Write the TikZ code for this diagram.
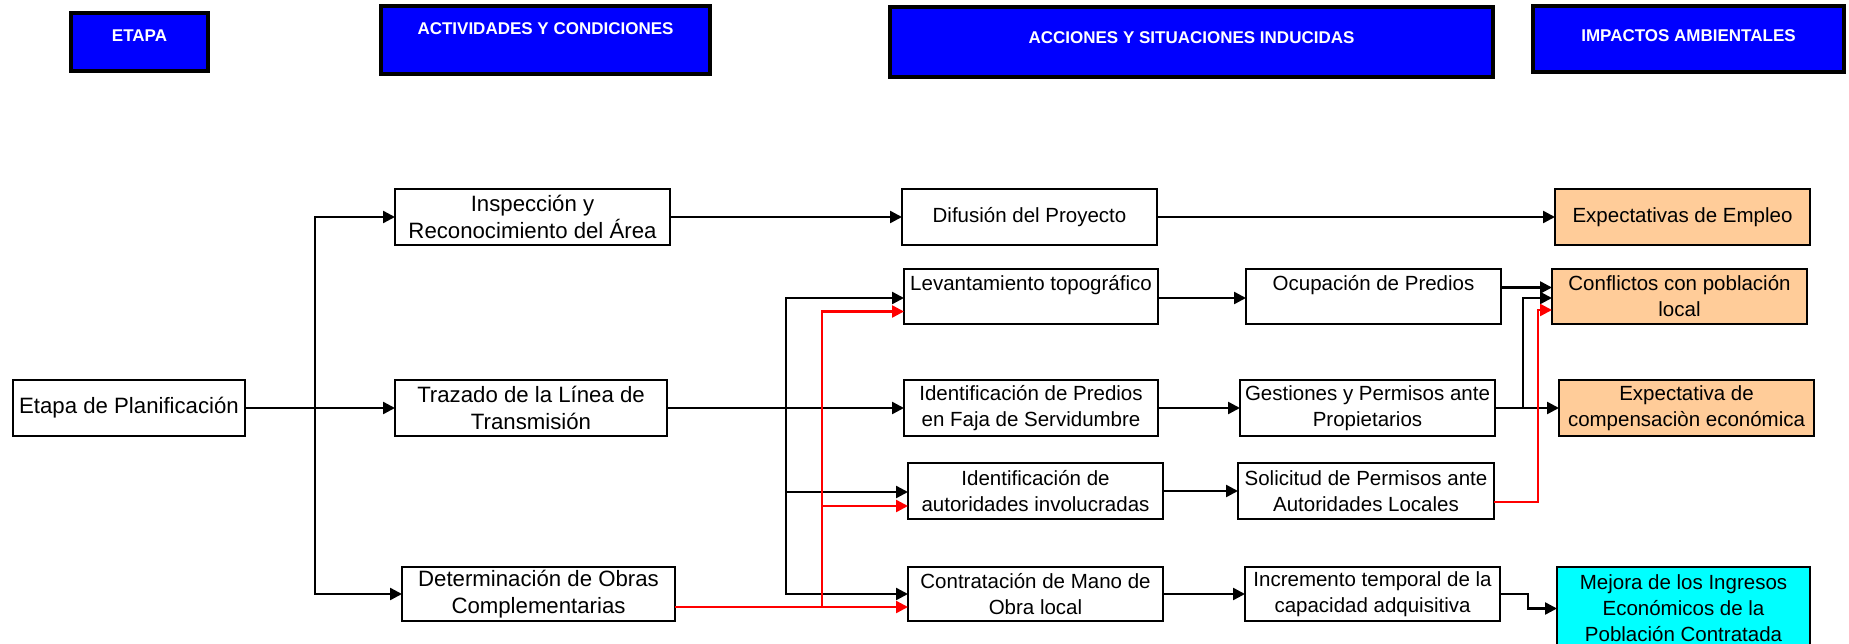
\documentclass[tikz,border=0pt]{standalone}
\usepackage{fontspec}
\setmainfont{Liberation Sans}
\usetikzlibrary{arrows.meta}
\definecolor{peach}{RGB}{255,204,153}
\definecolor{hblue}{RGB}{0,0,255}
\definecolor{aqua}{RGB}{0,255,255}
\begin{document}
\begin{tikzpicture}[x=1pt,y=-1pt,
  box/.style={draw=black, line width=1.8pt, fill=white, align=center, inner sep=2pt, outer sep=0pt,
    font=\fontsize{20.5}{26}\selectfont},
  bigbox/.style={box, font=\fontsize{22.2}{27.5}\selectfont},
  impbox/.style={box, fill=peach},
  topbox/.style={box, text height=15pt, text depth=27pt},
  hdr/.style={draw=black, line width=3.5pt, fill=hblue, text=white, outer sep=0pt,
    font=\bfseries\fontsize{17}{20}\selectfont, text height=12.3pt},
  arr/.style={draw=black, line width=2.4pt, -{Triangle[length=12pt,width=12pt]}},
  redarr/.style={arr, draw=red},
  conn/.style={draw=black, line width=2.4pt}]
\useasboundingbox (0,0) rectangle (1849,644);

% headers
\node[hdr, minimum width=137pt, minimum height=58pt, text depth=14pt] (h1) at (139.5,42) {ETAPA};
\node[hdr, minimum width=329pt, minimum height=68pt, text depth=24pt] (h2) at (545.5,40) {ACTIVIDADES Y CONDICIONES};
\node[hdr, minimum width=603pt, minimum height=70pt, text depth=10pt] (h3) at (1191.5,42) {ACCIONES Y SITUACIONES INDUCIDAS};
\node[hdr, minimum width=311pt, minimum height=66pt, text depth=8pt] (h4) at (1688.5,39) {IMPACTOS AMBIENTALES};

% column 1
\node[bigbox, minimum width=232pt, minimum height=56pt] (plan) at (129,408) {Etapa de Planificación};
% column 2
\node[bigbox, minimum width=275pt, minimum height=56pt] (insp) at (532.5,217) {Inspección y\\Reconocimiento del Área};
\node[bigbox, minimum width=272pt, minimum height=56pt] (traz) at (531,408) {Trazado de la Línea de\\Transmisión};
\node[bigbox, minimum width=273pt, minimum height=54pt] (det) at (538.5,594) {Determinación de Obras\\Complementarias};
% column 3
\node[box, minimum width=255pt, minimum height=56pt] (dif) at (1029.5,217) {Difusión del Proyecto};
\node[topbox, minimum width=254pt, minimum height=55pt] (lev) at (1031,296.5) {Levantamiento topográfico};
\node[box, minimum width=254pt, minimum height=56pt] (idp) at (1031,408) {Identificación de Predios\\en Faja de Servidumbre};
\node[box, minimum width=255pt, minimum height=56pt] (aut) at (1035.5,491) {Identificación de\\autoridades involucradas};
\node[box, minimum width=255pt, minimum height=54pt] (con) at (1035.5,594) {Contratación de Mano de\\Obra local};
% column 4
\node[topbox, minimum width=255pt, minimum height=55pt] (ocu) at (1373.5,296.5) {Ocupación de Predios};
\node[box, minimum width=255pt, minimum height=56pt] (ges) at (1367.5,408) {Gestiones y Permisos ante\\Propietarios};
\node[box, minimum width=256pt, minimum height=56pt] (sol) at (1366,491) {Solicitud de Permisos ante\\Autoridades Locales};
\node[box, minimum width=255pt, minimum height=54pt] (inc) at (1372.5,594) {Incremento temporal de la\\capacidad adquisitiva};
% column 5
\node[impbox, minimum width=255pt, minimum height=56pt] (emp) at (1682.5,217) {Expectativas de Empleo};
\node[impbox, minimum width=255pt, minimum height=55pt] (conf) at (1679.5,296.5) {Conflictos con población\\local};
\node[impbox, minimum width=255pt, minimum height=56pt] (comp) at (1686.5,408) {Expectativa de\\compensaciòn económica};
\node[box, fill=aqua, minimum width=253pt, minimum height=83pt] (mej) at (1683.5,608.5) {Mejora de los Ingresos\\Económicos de la\\Población Contratada};

% bus 1
\coordinate (b1) at (315,408);
\draw[conn] (plan.east) -- (b1);
\draw[arr] (b1) |- (insp.west);
\draw[arr] (b1) -- (traz.west);
\draw[arr] (b1) |- (det.west);

\draw[arr] (insp) -- (dif);
\draw[arr] (dif) -- (emp);

% bus 2
\coordinate (b2) at (786,408);
\draw[conn] (traz.east) -- (b2);
\draw[arr] (b2) |- ([yshift=-1.5pt]lev.west);
\draw[arr] (b2) -- (idp.west);
\draw[arr] (b2) |- ([yshift=-1pt]aut.west);
\draw[arr] (b2) |- (con.west);

% red from Determinacion
\coordinate (r1) at (822,607);
\draw[redarr] ([yshift=-13pt]det.east) -- ([yshift=-13pt]con.west);
\draw[redarr] (r1) |- ([yshift=-15pt]lev.west);
\draw[redarr] (r1) |- ([yshift=-15pt]aut.west);

% column 3 -> 4
\draw[arr] ([yshift=-1.5pt]lev.east) -- ([yshift=-1.5pt]ocu.west);
\draw[arr] (idp) -- (ges);
\draw[arr] (aut) -- (sol);
\draw[arr] (con) -- (inc);

% column 4 -> 5
\draw[arr] ([yshift=9pt]ocu.east) -- ([yshift=9pt]conf.west);
\draw[arr] (ges) -- (comp);
\coordinate (b3) at (1523,408);
\draw[arr] (b3) |- ([yshift=-1.5pt]conf.west);
\draw[redarr] ([yshift=-11pt]sol.east) -| ([yshift=-13.5pt,xshift=-14pt]conf.west) -- ([yshift=-13.5pt]conf.west);
\draw[arr] (inc.east) -| ([xshift=-29pt]mej.west) -- (mej.west);
\end{tikzpicture}
\end{document}
